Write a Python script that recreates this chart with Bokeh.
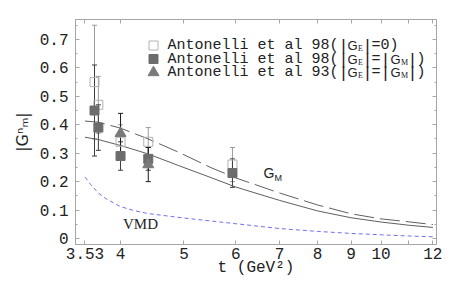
import math
from bokeh.plotting import figure
from bokeh.models import (FixedTicker, LogAxis, LinearAxis, Whisker, ColumnDataSource,
                          Label, TeeHead, Range1d, CustomJSTickFormatter)
from bokeh.embed import file_html
from bokeh.resources import INLINE

# ---------------- data ----------------
x_ticks = [3.53, 4, 5, 6, 7, 8, 9, 10, 11, 12]
x_tick_labels = ["3.53", "4", "5", "6", "7", "8", "9", "10", "", "12"]
y_ticks = [0.0, 0.1, 0.2, 0.3, 0.4, 0.5, 0.6, 0.7]
y_tick_labels = ["0", "0.1", "0.2", "0.3", "0.4", "0.5", "0.6", "0.7"]

# Antonelli et al 98 (FENICE)
t98 = [3.65, 3.70, 4.00, 4.41, 5.93]
g98_e0 = [0.55, 0.47, 0.34, 0.34, 0.26]      # |GE| = 0
err98_e0 = [0.20, 0.10, 0.06, 0.05, 0.06]
g98_eq = [0.45, 0.39, 0.29, 0.28, 0.23]      # |GE| = |GM|
err98_eq = [0.16, 0.08, 0.05, 0.04, 0.05]
# Antonelli et al 93
t93 = [4.00, 4.41]
g93 = [0.37, 0.26]
err93 = [0.07, 0.06]

# model curves
t_curve = [3.53, 3.7, 4.0, 4.4, 4.9, 5.5, 6.0, 7.0, 8.0, 9.0, 10.0, 11.0, 12.0]
gm_dashed = [0.413, 0.409, 0.388, 0.351, 0.304, 0.249, 0.213, 0.160, 0.118, 0.087, 0.069, 0.059, 0.049]
gm_solid = [0.356, 0.348, 0.327, 0.298, 0.257, 0.214, 0.181, 0.134, 0.097, 0.073, 0.058, 0.047, 0.039]
t_vmd = [3.53, 3.6, 3.7, 3.8, 4.0, 4.2, 4.4, 5.0, 6.0, 7.0, 8.0, 9.0, 10.0, 11.0, 12.0]
g_vmd = [0.216, 0.190, 0.160, 0.140, 0.112, 0.098, 0.088, 0.072, 0.052, 0.035, 0.025, 0.018, 0.013, 0.009, 0.006]

legend_prefix = ["Antonelli et al 98(", "Antonelli et al 98(", "Antonelli et al 93("]

# ---------------- layout ----------------
X_LO, X_HI = 3.414, 12.155
Y_LO, Y_HI = -0.021, 0.770
FL, FT, FW, FH = 75, 19, 361, 225     # frame left / top / width / height in page pixels
FB = FT + FH
W, H = 457, 283

def to_data(px, py):
    lx = math.log(X_LO) + (px - FL) / FW * (math.log(X_HI) - math.log(X_LO))
    return math.exp(lx), Y_LO + (FB - py) / FH * (Y_HI - Y_LO)

p = figure(width=W, height=H, x_axis_type="log",
           x_range=Range1d(X_LO, X_HI), y_range=Range1d(Y_LO, Y_HI),
           output_backend="svg", toolbar_location=None,
           min_border_left=FL, min_border_right=W - FL - FW,
           min_border_top=FT, min_border_bottom=H - FB)
p.grid.visible = False
p.background_fill_color = "white"
FRAME = "#a6a6a6"
p.outline_line_color = FRAME

xt = FixedTicker(ticks=x_ticks, minor_ticks=[])
y_minor = [round(a + 0.05, 3) for a in y_ticks]
yt = FixedTicker(ticks=y_ticks, minor_ticks=y_minor)

JS = """
for (let i = 0; i < vals.length; i++) { if (Math.abs(vals[i] - tick) < 1e-6) return labels[i]; }
return '';"""
xfmt = CustomJSTickFormatter(args=dict(vals=x_ticks, labels=x_tick_labels), code=JS)
yfmt = CustomJSTickFormatter(args=dict(vals=y_ticks, labels=y_tick_labels), code=JS)
blank = CustomJSTickFormatter(code="return '';")

def style(ax, show=True):
    ax.axis_line_color = FRAME
    ax.major_tick_line_color = FRAME
    ax.minor_tick_line_color = FRAME
    ax.major_tick_in = 4
    ax.major_tick_out = 0
    ax.minor_tick_in = 2
    ax.minor_tick_out = 0
    ax.major_label_text_font = "Liberation Mono"
    ax.major_label_text_font_size = "16px" if show else "0px"
    ax.major_label_text_color = "#222222"

xa = p.xaxis[0]
xa.ticker = xt
xa.formatter = xfmt
style(xa)
xa.major_label_standoff = 3
xa.axis_label = "t (GeV\u00b2)"
xa.axis_label_text_font = "Liberation Mono"
xa.axis_label_text_font_size = "16px"
xa.axis_label_text_font_style = "normal"
xa.axis_label_text_color = "#222222"
xa.axis_label_standoff = -3

ya = p.yaxis[0]
ya.ticker = yt
ya.formatter = yfmt
style(ya)
ya.major_label_standoff = 7
ya.axis_label = "|G\u207f\u2098|"
ya.axis_label_text_font = "DejaVu Sans"
ya.axis_label_text_font_size = "16px"
ya.axis_label_text_font_style = "normal"
ya.axis_label_text_color = "#222222"
ya.axis_label_standoff = 5

top = LogAxis(ticker=xt, formatter=blank, major_label_standoff=0)
style(top, False)
p.add_layout(top, "above")
right = LinearAxis(ticker=yt, formatter=blank, major_label_standoff=0)
style(right, False)
p.add_layout(right, "right")

# ---------------- curves ----------------
p.line(t_vmd, g_vmd, line_color="#7070f2", line_width=1, line_dash="4 3")
p.line(t_curve, gm_solid, line_color="#5f5f5f", line_width=1)
p.line(t_curve, gm_dashed, line_color="#5f5f5f", line_width=1, line_dash="20 6")

# ---------------- error bars ----------------
def bars(ts, gs, es, color):
    src = ColumnDataSource(dict(t=ts, lo=[g - e for g, e in zip(gs, es)],
                                hi=[g + e for g, e in zip(gs, es)]))
    w = Whisker(source=src, base="t", lower="lo", upper="hi", line_color=color, line_width=1,
                upper_head=TeeHead(size=5, line_color=color, line_width=1),
                lower_head=TeeHead(size=5, line_color=color, line_width=1))
    w.level = "underlay"
    p.add_layout(w)

bars(t98, g98_e0, err98_e0, "#9a9a9a")
bars(t98, g98_eq, err98_eq, "#3c3c3c")
bars(t93, g93, err93, "#1a1a1a")

# ---------------- markers ----------------
OPEN = dict(marker="square", size=9, fill_alpha=0, line_color="#b2b2b2", line_width=1)
FILLED = dict(marker="square", size=9, fill_color="#6c6c6c", line_color="#6c6c6c")
TRI = dict(marker="triangle", size=11, fill_color="#7a7a7a", line_color="#7a7a7a")
p.scatter(t98, g98_e0, **OPEN)
p.scatter(t98, g98_eq, **FILLED)
p.scatter(t93, g93, **TRI)

# ---------------- texts inside the frame ----------------
def text(px, py, s, font, size, color="#222222", align="left", baseline="middle"):
    p.add_layout(Label(x=X_LO, y=Y_LO, x_offset=px - FL, y_offset=FB - py, text=s,
                       text_font=font, text_font_size=f"{size}px", text_color=color,
                       text_align=align, text_baseline=baseline))

rows_y = [45, 58.5, 72]
styles = [OPEN, FILLED, TRI]
for i, ry in enumerate(rows_y):
    lx, ly = to_data(153, ry)
    p.scatter([lx], [ly], **styles[i])
    text(167, ry, legend_prefix[i], "Liberation Mono", 15)
    text(343, ry, "|", "Liberation Sans", 17, align="center")
    text(347, ry, "G", "Liberation Sans", 13)
    text(357.5, ry + 3, "E", "Liberation Serif", 8)
    text(367, ry, "|", "Liberation Sans", 17, align="center")
    if i == 0:
        text(371, ry, "=0)", "Liberation Mono", 15)
    else:
        text(371, ry, "=", "Liberation Mono", 15)
        text(385, ry, "|", "Liberation Sans", 17, align="center")
        text(390, ry, "G", "Liberation Sans", 13)
        text(400.5, ry + 3, "M", "Liberation Serif", 8)
        text(412, ry, "|", "Liberation Sans", 17, align="center")
        text(416, ry, ")", "Liberation Mono", 15)

text(263, 172, "G", "Liberation Sans", 14)
text(274, 177, "M", "Liberation Sans", 9)
text(140, 223, "VMD", "Liberation Serif", 15, align="center")

open("out.html", "w").write(file_html(p, INLINE))
